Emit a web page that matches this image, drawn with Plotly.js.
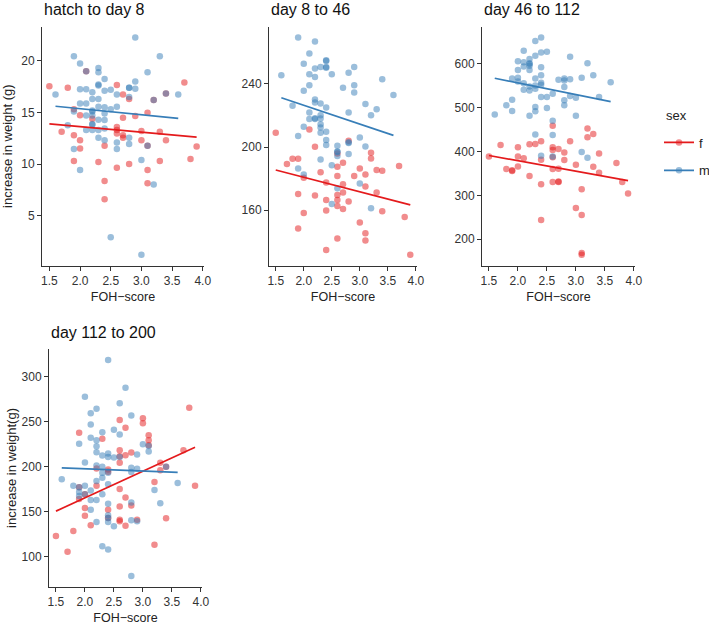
<!DOCTYPE html>
<html>
<head>
<meta charset="utf-8">
<script src="https://cdn.plot.ly/plotly-3.0.1.min.js"></script>
<style>html,body{margin:0;padding:0;background:#fff;overflow:hidden;}#chart{width:740px;height:626px;}</style>
</head>
<body>
<div id="chart"></div>
<script>
// ---- Data ----
const panelTitles = ["hatch to day 8", "day 8 to 46", "day 46 to 112", "day 112 to 200"];
const xTickVals = [1.5, 2.0, 2.5, 3.0, 3.5, 4.0];
const xTickText = ["1.5", "2.0", "2.5", "3.0", "3.5", "4.0"];
const yTicks1 = [5, 10, 15, 20];
const yTicks2 = [160, 200, 240];
const yTicks3 = [200, 300, 400, 500, 600];
const yTicks4 = [100, 150, 200, 250, 300];
const legendTitle = "sex";
const sexLabels = ["f", "m"];

// Panel 1: hatch to day 8
const p1_f_x = [1.5,1.8,2.6,3.7,2.7,2.8,3.2,3.4,2.1,1.9,2.0,3.1,2.9,2.7,2.2,1.7,1.9,2.0,2.6,2.6,2.6,2.7,2.7,3.0,3.3,3.0,3.4,2.4,3.1,2.0,3.9,1.9,2.3,2.8,3.3,3.8,2.6,3.1,3.1,2.4,2.4];
const p1_f_y = [17.55,17.4,17.65,17.9,16.74,16.3,16.2,16.84,19.0,15.3,14.74,14.97,14.65,14.48,14.4,13.13,12.8,12.3,13.6,13.3,12.97,12.8,12.55,13.2,13.13,12.3,12.3,11.77,11.77,11.5,11.7,10.3,10.2,10.0,10.3,10.5,9.65,9.42,8.13,8.35,6.6];
const p1_m_x = [2.9,1.9,3.3,2.0,2.3,2.3,3.1,2.4,2.9,2.3,2.3,2.0,2.1,2.4,2.5,2.8,2.8,2.9,1.6,2.2,2.6,2.8,3.6,2.2,2.3,2.0,2.1,2.6,2.5,2.4,1.9,2.2,2.2,2.3,2.4,2.1,2.2,2.3,2.4,2.2,2.2,2.1,2.2,2.3,2.4,1.8,2.3,2.4,2.8,2.6,2.8,3.1,1.9,2.6,3.0,2.0,3.2,2.5,3.0,2.1,3.2,3.4];
const p1_m_y = [22.26,20.45,20.45,19.74,19.3,18.9,18.9,18.25,18.0,17.7,17.6,17.26,17.26,17.1,17.2,17.4,17.4,17.3,16.74,16.97,16.74,16.5,16.74,16.3,16.3,15.87,15.87,15.55,15.3,15.5,15.1,15.1,15.2,15.55,14.9,14.7,14.7,14.3,14.26,13.87,13.8,13.3,13.3,13.3,13.45,13.77,12.55,12.3,12.55,12.1,11.94,11.77,11.45,11.45,10.4,9.42,8.03,2.9,1.2,19.0,16.2,16.84];
const p1_fit_f_x = [1.5, 3.9], p1_fit_f_y = [13.9, 12.6];
const p1_fit_m_x = [1.6, 3.6], p1_fit_m_y = [15.6, 14.42];

// Panel 2: day 8 to 46
const p2_f_x = [1.5,2.1,2.8,2.2,2.6,3.2,3.2,1.8,1.9,1.7,2.7,2.6,3.0,3.7,3.3,3.4,2.3,2.9,3.1,2.6,2.0,2.4,2.7,3.1,2.7,3.3,1.9,2.2,2.6,2.6,2.4,2.8,2.6,2.7,2.4,3.4,2.0,3.8,3.0,1.9,3.1,2.6,3.1,2.4,3.9];
const p2_f_y = [209.1,211.2,204,200.2,196,196.4,192.8,192.6,192.6,189.3,190.1,187.6,186.5,188,185.5,185,184,181.7,182.7,181.7,180.6,177.5,176.4,175,171.2,171.2,170.3,169.3,169.7,166.5,166.5,165.5,162.7,160.8,159.8,159.4,158.3,155.8,152.2,148.4,145.5,142.1,140.8,134.9,131.8];
const p2_m_x = [1.9,2.2,2.1,2.4,2.4,2.0,2.3,2.4,2.4,2.2,2.9,2.5,2.1,2.8,1.6,2.2,3.4,2.1,2.9,2.7,2.0,2.9,3.6,2.2,2.2,2.3,1.8,3.1,2.4,3.3,2.1,2.8,3.2,2.3,2.3,2.1,2.2,2.2,2.3,2.3,2.0,2.4,2.3,1.9,3.0,2.4,2.4,2.8,2.8,2.6,3.1,2.6,2.6,2.6,2.8,2.3,2.5,1.9,2.0,3.0,2.6,2.5,3.2];
const p2_m_y = [269.3,266.9,259.2,255,254.5,252.8,250.7,250.7,250.2,249.7,250.7,246.1,246.1,247,245.5,244.4,243,239.2,239.2,237.5,235.6,234.5,233,230.1,228.2,227.6,226.1,227.2,225,224,221.9,221.9,220.2,220.2,218.1,217.7,217.7,218.2,214.5,212.4,212.8,209.7,209.1,207,206.1,204.4,201.3,203,202.6,200.8,200.4,197.2,196.8,194.4,195.6,192.2,188.5,186.4,182.6,177,173.9,164,161.3];
const p2_fit_f_x = [1.5, 3.9], p2_fit_f_y = [185.5, 163.4];
const p2_fit_m_x = [1.6, 3.6], p2_fit_m_y = [231.2, 207.4];

// Panel 3: day 46 to 112
const p3_f_x = [2.6,3.2,3.3,3.2,1.7,2.4,2.9,2.2,2.3,2.0,2.6,2.6,2.7,2.8,1.5,2.0,2.1,2.4,2.6,2.8,3.4,3.7,3.0,1.8,1.9,1.9,2.0,2.6,2.7,3.3,3.4,2.2,2.4,2.6,2.7,2.7,3.8,3.1,3.9,3.0,3.1,2.4,3.1,3.1];
const p3_f_y = [458.9,452.8,440,432.5,415,423.4,423.4,416.6,417.4,409.8,409.8,403.8,406,397.7,388.7,388.7,384.9,381.1,387.2,380.4,395.5,373.6,369.8,360,355.5,357,366,360,360.8,365.3,351.7,344.2,325.3,330.6,330.6,331.5,330.6,314,304.2,270.9,255,243.8,168.3,164];
const p3_m_x = [2.4,2.3,2.1,2.5,2.4,2.3,2.2,2.9,2.0,2.1,2.2,2.2,3.2,2.2,2.1,2.4,2.0,2.2,3.3,2.4,1.9,2.0,2.3,2.7,2.8,2.9,3.1,2.8,3.6,2.0,2.1,2.4,2.4,2.3,2.2,2.8,2.1,2.2,2.3,2.6,2.9,2.4,2.5,3.0,3.4,1.9,2.8,1.8,2.8,2.3,2.5,1.9,2.3,1.6,2.2,3.0,2.6,2.3,2.6,2.4,2.6,3.1,3.2];
const p3_m_y = [660.4,652.8,630.2,627.9,626.4,618.9,611.3,616.6,606,603.8,601.5,600,601.5,596.2,594,592.5,586.4,586,574.3,574.3,566.8,568.3,566.8,563.8,566.8,565.3,568.3,562.3,558.5,560,556.2,557,552.5,551,548.7,547.2,541.1,539.6,543.4,532,526.8,524.5,524.5,523,524.5,518.5,517,505.7,505.7,501.9,499.6,492.8,492,484.5,481.5,481.5,470.2,439.2,437.7,390.2,388.7,399.2,385.7];
const p3_fit_f_x = [1.5, 3.9], p3_fit_f_y = [391, 333.5];
const p3_fit_m_x = [1.6, 3.6], p3_fit_m_y = [567.4, 514];

// Panel 4: day 112 to 200
const p4_f_x = [3.8,3.0,2.6,3.0,2.7,1.9,3.1,3.1,2.3,3.1,2.6,3.7,2.8,2.7,2.6,2.6,3.3,2.4,3.3,2.2,2.4,3.4,3.2,2.2,1.9,2.0,2.6,3.9,1.9,2.7,2.8,2.6,2.0,2.4,2.0,2.4,2.6,2.6,3.4,2.9,2.1,2.7,1.8,1.5,3.2,1.7];
const p4_f_y = [265.5,253.8,251.9,248.3,243.1,237.6,235,229.2,231,223.7,218.2,218.2,215.6,212.7,211.6,204.2,204.2,196.9,196.1,198,194.3,199.8,182.9,178.9,177,169.4,175.2,178.9,164.2,165.7,156.9,155.8,154,152.1,145.5,143,141.1,139.3,142.6,141.1,134.9,134.5,128.6,123.1,113.2,105.5];
const p4_m_x = [2.4,2.7,2.0,2.6,2.2,2.1,2.8,2.1,2.5,2.3,2.6,2.1,2.2,1.9,3.0,3.1,2.2,2.2,3.1,2.4,2.3,2.9,2.0,2.5,2.6,2.4,2.2,2.3,2.8,2.9,2.3,2.4,2.8,3.4,2.3,1.6,2.2,2.4,3.6,1.8,2.0,1.9,2.1,3.2,1.9,2.0,2.3,1.9,2.1,2.2,2.4,2.8,3.3,2.1,2.4,2.4,2.2,2.4,2.9,2.8,2.5,2.3,2.4,2.8];
const p4_m_y = [318.3,287.5,277.6,270.3,264.4,259.3,256.7,246.8,240.9,238.3,235.8,232.1,229.2,225.5,224.8,222.9,222.6,216,216.7,214.5,212.3,213.4,204.6,210.1,210.8,210.8,201.3,199.8,198.7,197.6,193.2,193.2,194,199.8,187.7,185.9,184,180.4,181.8,178.9,178.9,177,173.4,174.1,171.9,169.4,169.4,167.5,163.1,163.1,158.7,160.2,159.4,152.1,145.9,143,138.5,138.5,139.3,140.4,133.8,111.7,108.1,78.7];
const p4_fit_f_x = [1.5, 3.9], p4_fit_f_y = [150.6, 221.5];
const p4_fit_m_x = [1.6, 3.6], p4_fit_m_y = [198.7, 193.6];

// ---- Styling ----
const RED = '#E41A1C', BLUE = '#377EB8';
const FONT = '"Liberation Sans", Arial, Helvetica, sans-serif';
const W = 740, H = 626;   // paper is a little wider than the 709px window so the legend is not pushed left
const panels = [
  {fx:p1_f_x, fy:p1_f_y, mx:p1_m_x, my:p1_m_y, lfx:p1_fit_f_x, lfy:p1_fit_f_y, lmx:p1_fit_m_x, lmy:p1_fit_m_y, yt:yTicks1, yr:[0.15,23.31], box:[42,204,26.7,265.7], ytitle:'increase in weight (g)', ystand:10},
  {fx:p2_f_x, fy:p2_f_y, mx:p2_m_x, my:p2_m_y, lfx:p2_fit_f_x, lfy:p2_fit_f_y, lmx:p2_fit_m_x, lmy:p2_fit_m_y, yt:yTicks2, yr:[124.9,276.2], box:[269,417,26.7,265.7], ytitle:'', ystand:0},
  {fx:p3_f_x, fy:p3_f_y, mx:p3_m_x, my:p3_m_y, lfx:p3_fit_f_x, lfy:p3_fit_f_y, lmx:p3_fit_m_x, lmy:p3_fit_m_y, yt:yTicks3, yr:[139.2,685.2], box:[482,635,26.7,265.7], ytitle:'', ystand:0},
  {fx:p4_f_x, fy:p4_f_y, mx:p4_m_x, my:p4_m_y, lfx:p4_fit_f_x, lfy:p4_fit_f_y, lmx:p4_fit_m_x, lmy:p4_fit_m_y, yt:yTicks4, yr:[66.7,330.3], box:[49,202,349.3,586.7], ytitle:'increase in weight(g)', ystand:2}
];

const data = [];
const layout = {
  width: W, height: H,
  margin: {l:0, r:0, t:0, b:0},
  paper_bgcolor: '#fff', plot_bgcolor: '#fff',
  font: {family: FONT, color: '#222'},
  showlegend: true,
  legend: {
    x: 659/W, y: 1 - 127.5/H, xanchor: 'left', yanchor: 'top',
    font: {size: 13, color: '#222'},
    bgcolor: 'rgba(0,0,0,0)', traceorder: 'grouped', tracegroupgap: 8
  },
  annotations: [{
    text: legendTitle, xref: 'paper', yref: 'paper', x: 664/W, y: 1 - 116/H,
    xanchor: 'left', yanchor: 'middle', showarrow: false,
    font: {size: 13, color: '#222', family: FONT}
  }]
};

panels.forEach((p, i) => {
  const n = i === 0 ? '' : String(i + 1);
  const xa = 'x' + n, ya = 'y' + n;
  const mk = (c) => ({color: c, size: 6.5, opacity: 0.5, line: {width: 0}});
  data.push({type:'scatter', mode:'markers', x:p.fx, y:p.fy, xaxis:xa, yaxis:ya, marker:mk(RED), showlegend:false, hoverinfo:'skip'});
  data.push({type:'scatter', mode:'markers', x:p.mx, y:p.my, xaxis:xa, yaxis:ya, marker:mk(BLUE), showlegend:false, hoverinfo:'skip'});
  data.push({type:'scatter', mode:'lines', x:p.lfx, y:p.lfy, xaxis:xa, yaxis:ya, line:{color:RED, width:1.7}, showlegend:false});
  data.push({type:'scatter', mode:'lines', x:p.lmx, y:p.lmy, xaxis:xa, yaxis:ya, line:{color:BLUE, width:1.7}, showlegend:false});
  const [x0, x1, y0, y1] = p.box;
  const axCommon = {
    showline: true, linecolor: '#333', linewidth: 1,
    ticks: 'outside', ticklen: 4, tickcolor: '#333', tickwidth: 1,
    showgrid: false, zeroline: false,
    tickfont: {size: 12, color: '#333', family: FONT}
  };
  layout['xaxis' + n] = Object.assign({}, axCommon, {
    domain: [x0 / W, x1 / W], anchor: ya, range: [1.38, 4.02],
    tickvals: xTickVals, ticktext: xTickText,
    title: {text: 'FOH−score', font: {size: 12.5, color: '#222', family: FONT}, standoff: 5}
  });
  layout['yaxis' + n] = Object.assign({}, axCommon, {
    domain: [1 - y1 / H, 1 - y0 / H], anchor: xa, range: p.yr,
    tickvals: p.yt,
    title: {text: p.ytitle, font: {size: 13, color: '#222', family: FONT}, standoff: p.ystand}
  });
  layout.annotations.push({
    text: panelTitles[i], xref: 'paper', yref: 'paper',
    x: x0 / W, y: 1 - (y0 - 17) / H, xanchor: 'left', yanchor: 'middle',
    showarrow: false, font: {size: 16, color: '#111', family: FONT}
  });
});

// legend keys (no data of their own)
data.push({type:'scatter', mode:'lines+markers', x:[null], y:[null], name:sexLabels[0], legendgroup:'f', line:{color:RED, width:1.7}, marker:{color:RED, size:6.5, opacity:0.5}});
data.push({type:'scatter', mode:'lines+markers', x:[null], y:[null], name:sexLabels[1], legendgroup:'m', line:{color:BLUE, width:1.7}, marker:{color:BLUE, size:6.5, opacity:0.5}});

Plotly.newPlot('chart', data, layout, {staticPlot: true, displayModeBar: false});
</script>
</body>
</html>
